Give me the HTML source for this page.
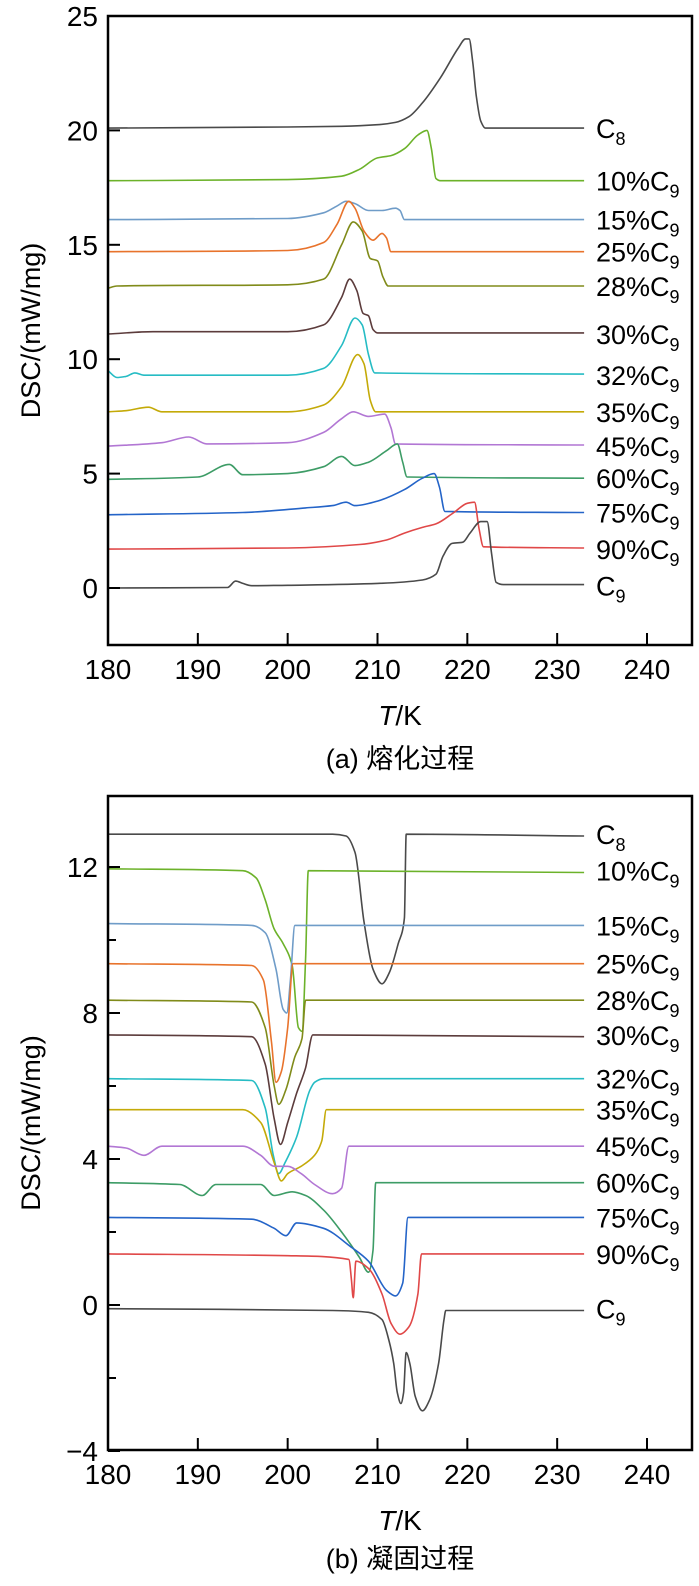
<!DOCTYPE html>
<html><head><meta charset="utf-8">
<style>
html,body{margin:0;padding:0;background:#fff;}
svg{display:block;font-family:"Liberation Sans","Noto Sans CJK SC",sans-serif;}
</style></head>
<body>
<svg id="fig" width="699" height="1586" viewBox="0 0 699 1586"></svg>
<script>
// ---------- data ----------
const xTicks = [180,190,200,210,220,230,240];
const topYTicks = [0,5,10,15,20,25];
const botYTicks = [-4,0,4,8,12];
const seriesNames = ["C8","10%C9","15%C9","25%C9","28%C9","30%C9","32%C9","35%C9","45%C9","60%C9","75%C9","90%C9","C9"];
const seriesColors = ["#4a4a4a","#6cb22a","#6f9cc8","#e8732c","#808b1a","#5c3c3c","#26bcc4","#c4aa08","#b277d4","#3d9c66","#2464c8","#e04848","#4a4a4a"];
const meltLabelY = [20.1,17.8,16.1,14.7,13.2,11.1,9.3,7.7,6.2,4.8,3.3,1.7,0.1];
const freezeLabelY = [12.9,11.9,10.4,9.35,8.35,7.4,6.2,5.35,4.35,3.35,2.4,1.4,-0.1];
const melt = [
 [[180,20.1],[200,20.15],[206,20.18],[210,20.25],[212,20.35],[213.5,20.6],[215,21.2],[217,22.3],[219,23.6],[219.8,24],[220.2,24],[220.6,23],[221,21.5],[221.5,20.4],[222,20.1],[233,20.1]],
 [[180,17.8],[200,17.85],[206,18.0],[208,18.3],[210,18.8],[211.5,18.9],[213,19.2],[214.5,19.8],[215.5,20.0],[216,19.2],[216.5,17.9],[217,17.8],[233,17.8]],
 [[180,16.1],[200,16.15],[204,16.4],[205.5,16.7],[206.5,16.9],[207.5,16.8],[209,16.5],[210.5,16.5],[212,16.6],[212.5,16.5],[213,16.1],[233,16.1]],
 [[180,14.7],[200,14.75],[204,15.1],[205.5,15.9],[206.8,16.9],[207.5,16.6],[208.5,15.6],[209.5,15.2],[210.5,15.5],[211,15.3],[211.5,14.7],[233,14.7]],
 [[180,13.1],[181,13.2],[200,13.25],[204,13.5],[206,15],[207.3,16.0],[208.3,15.6],[209.2,14.4],[210,14.3],[210.6,13.6],[211.2,13.2],[233,13.2]],
 [[180,11.1],[185,11.2],[200,11.2],[204,11.5],[206,12.7],[206.9,13.5],[207.7,13.0],[208.4,12.0],[209,11.9],[209.5,11.3],[210,11.15],[233,11.15]],
 [[180,9.5],[181,9.2],[182,9.25],[183,9.4],[184,9.3],[200,9.3],[204,9.6],[206,10.6],[207.5,11.8],[208.3,11.5],[209,10.2],[209.7,9.4],[233,9.35]],
 [[180,7.7],[182,7.75],[184.5,7.9],[186,7.7],[200,7.7],[204,8.0],[206,8.8],[207.8,10.2],[208.5,9.8],[209.2,8.2],[209.8,7.7],[233,7.7]],
 [[180,6.2],[186,6.35],[189,6.6],[191,6.3],[200,6.35],[204,6.8],[206,7.4],[207.3,7.7],[209,7.5],[210.8,7.6],[211.5,7.0],[212,6.3],[233,6.25]],
 [[180,4.75],[190,4.85],[193.5,5.4],[195,4.95],[200,5.0],[204,5.3],[206,5.75],[207.5,5.35],[209,5.5],[211,6.0],[212.2,6.3],[212.8,5.5],[213.3,4.85],[233,4.8]],
 [[180,3.2],[195,3.3],[202,3.5],[205,3.6],[206.5,3.75],[207.5,3.6],[210,3.8],[213,4.3],[215,4.8],[216.3,5.0],[216.9,4.4],[217.5,3.35],[233,3.3]],
 [[180,1.7],[200,1.75],[208,1.9],[211,2.1],[213,2.4],[215,2.65],[216.5,2.8],[218.5,3.3],[220,3.7],[220.8,3.75],[221.3,2.6],[221.8,1.8],[233,1.75]],
 [[180,0],[193.3,0.02],[194.2,0.3],[195,0.2],[196,0.1],[200,0.12],[210,0.2],[215,0.35],[216.5,0.6],[217.3,1.4],[218.3,1.95],[219.5,2.0],[220.3,2.4],[221.5,2.9],[222.2,2.9],[222.7,1.5],[223.2,0.25],[224,0.15],[233,0.15]]
];
const freeze = [
 [[180,12.9],[205,12.9],[206.5,12.85],[207.5,12.4],[208.5,10.5],[209.5,9.2],[210.5,8.8],[211.3,9.1],[212.3,9.9],[213,10.6],[213.2,12.9],[233,12.85]],
 [[180,11.95],[195,11.9],[196.5,11.7],[197.5,11.1],[198.5,10.3],[199.5,9.9],[200.5,9.3],[201.2,7.6],[201.6,7.5],[202,9.5],[202.3,11.9],[233,11.85]],
 [[180,10.45],[196,10.4],[197.5,10.2],[198.7,9.2],[199.5,8.1],[199.9,8.0],[200.3,8.9],[200.8,10.4],[233,10.4]],
 [[180,9.35],[196,9.3],[197.3,8.9],[198.2,7.2],[198.7,6.1],[199.3,6.4],[200,7.6],[200.6,9.35],[233,9.35]],
 [[180,8.35],[196,8.3],[197.5,7.6],[198.5,6.0],[199,5.5],[199.8,5.9],[200.8,6.8],[201.6,7.3],[202,8.35],[233,8.35]],
 [[180,7.4],[196,7.35],[197.5,6.6],[198.5,5.1],[199.2,4.4],[200,5.0],[201,5.8],[202,6.5],[202.8,7.4],[233,7.35]],
 [[180,6.2],[196,6.15],[197.5,5.4],[198.4,4.1],[199,3.6],[199.7,3.9],[201,4.6],[202.5,5.9],[203,6.1],[204,6.2],[233,6.2]],
 [[180,5.35],[195,5.35],[197,5.0],[198.5,3.9],[199.3,3.4],[200,3.6],[201.5,3.8],[203,4.1],[203.8,4.5],[204.3,5.35],[233,5.35]],
 [[180,4.35],[182,4.3],[184,4.1],[186,4.35],[195,4.35],[197,4.1],[198.5,3.8],[200,3.8],[201.5,3.6],[203,3.3],[205,3.05],[206,3.2],[206.8,4.35],[233,4.35]],
 [[180,3.35],[188,3.3],[190.5,3.0],[192,3.3],[197,3.3],[198.5,3.0],[200.5,3.1],[202,3.0],[204,2.6],[206,2.0],[208,1.3],[209,0.9],[209.5,1.5],[209.8,3.35],[233,3.35]],
 [[180,2.4],[196,2.35],[198.5,2.1],[199.8,1.9],[201,2.25],[204,2.1],[207,1.6],[209,1.2],[211,0.4],[212,0.25],[212.8,0.6],[213.4,2.4],[233,2.4]],
 [[180,1.4],[200,1.35],[206.8,1.25],[207.1,0.7],[207.3,0.2],[207.6,1.2],[209,1.0],[210.5,0.3],[211.5,-0.5],[212.5,-0.8],[213.5,-0.6],[214.5,0.3],[214.9,1.4],[233,1.4]],
 [[180,-0.1],[205,-0.15],[209,-0.2],[210.5,-0.4],[211.3,-1.0],[211.8,-1.6],[212.2,-2.4],[212.6,-2.7],[212.9,-2.4],[213.2,-1.3],[213.6,-1.6],[214.2,-2.5],[215,-2.9],[215.8,-2.6],[216.8,-1.6],[217.4,-0.4],[217.6,-0.15],[233,-0.15]]
];
// ---------- drawing ----------
const NS="http://www.w3.org/2000/svg";
const svg=document.getElementById('fig');
function mk(tag,attrs,parent){const e=document.createElementNS(NS,tag);for(const k in attrs)e.setAttribute(k,attrs[k]);(parent||svg).appendChild(e);return e;}
// monotone cubic (Fritsch–Carlson) in screen coords, x strictly increasing
function smoothPath(P){
  const n=P.length, d=[], m=[];
  for(let i=0;i<n-1;i++) d.push((P[i+1][1]-P[i][1])/(P[i+1][0]-P[i][0]));
  m[0]=d[0]; m[n-1]=d[n-2];
  for(let i=1;i<n-1;i++){
    if(d[i-1]*d[i]<=0) m[i]=0;
    else { const h0=P[i][0]-P[i-1][0], h1=P[i+1][0]-P[i][0];
      const w1=2*h1+h0, w2=h1+2*h0; m[i]=(w1+w2)/(w1/d[i-1]+w2/d[i]); }
  }
  let s='M'+P[0][0].toFixed(1)+','+P[0][1].toFixed(1);
  for(let i=0;i<n-1;i++){
    const h=(P[i+1][0]-P[i][0])/3;
    s+=' C'+(P[i][0]+h).toFixed(1)+','+(P[i][1]+m[i]*h).toFixed(1)+' '+(P[i+1][0]-h).toFixed(1)+','+(P[i+1][1]-m[i+1]*h).toFixed(1)+' '+P[i+1][0].toFixed(1)+','+P[i+1][1].toFixed(1);
  }
  return s;
}
function panel(cfg){
  const g=mk('g',{});
  
  
  const X=t=>108+(t-180)*(539/60);
  const Y=v=>cfg.y0+(v-cfg.v0)*(cfg.y1-cfg.y0)/(cfg.v1-cfg.v0);
  cfg.data.forEach((pts,i)=>{
    const P=pts.map(q=>[X(q[0]),Y(q[1])]);
    const p=mk('path',{d:smoothPath(P),fill:'none',stroke:seriesColors[i],'stroke-width':1.6,'stroke-linejoin':'round'},g);
    
    
    const lab=mk('text',{x:596,y:Y(cfg.labelY[i])+10,'font-size':27,fill:'#000'},g);
    
    
    const nm=seriesNames[i];
    lab.appendChild(document.createTextNode(nm.slice(0,-1)));
    const sub=mk('tspan',{'font-size':18,dy:7},lab);
    sub.textContent=nm.slice(-1);
  });
  const fr=mk('rect',{x:108,y:cfg.top,width:584,height:cfg.bottom-cfg.top,fill:'none',stroke:'#000','stroke-width':2.5},g);
  
  
  xTicks.forEach(t=>{
    const tk=mk('line',{x1:X(t),x2:X(t),y1:cfg.bottom,y2:cfg.bottom-12,stroke:'#000','stroke-width':2},g);
    
    
    const tl=mk('text',{x:X(t),y:cfg.bottom+34,'font-size':28,'text-anchor':'middle'},g);
    
    
    tl.textContent=t;
  });
  cfg.yTicks.forEach(v=>{
    const tk=mk('line',{x1:108,x2:120,y1:Y(v),y2:Y(v),stroke:'#000','stroke-width':2},g);
    
    
    const tl=mk('text',{x:98,y:Y(v)+10,'font-size':28,'text-anchor':'end'},g);
    
    
    tl.textContent=v<0?'\u2212'+(-v):v;
  });
  (cfg.minor||[]).forEach(v=>{
    const tk=mk('line',{x1:108,x2:116,y1:Y(v),y2:Y(v),stroke:'#000','stroke-width':2},g);
    
    
  });
  const yl=mk('text',{x:0,y:0,'font-size':27,'text-anchor':'middle',transform:`translate(40,${(cfg.top+cfg.bottom)/2}) rotate(-90)`},g);
  
  
  yl.textContent='DSC/(mW/mg)';
  const xl=mk('text',{x:400,y:cfg.bottom+80,'font-size':28,'text-anchor':'middle'},g);
  
  
  const it=mk('tspan',{'font-style':'italic'},xl);it.textContent='T';
  xl.appendChild(document.createTextNode('/K'));
  const cap=mk('text',{x:400,y:cfg.capY,'font-size':27,'text-anchor':'middle'},g);
  
  
  cap.textContent=cfg.caption;
}
panel({name:'melting-chart',data:melt,labelY:meltLabelY,yTicks:topYTicks,v0:0,y0:588,v1:25,y1:16,top:16,bottom:645,capY:768,caption:'(a) 熔化过程'});
panel({name:'solidification-chart',data:freeze,labelY:freezeLabelY,yTicks:botYTicks,minor:[-2,2,6,10],v0:0,y0:1305,v1:12,y1:867,top:796,bottom:1450,capY:1568,caption:'(b) 凝固过程'});
</script>
</body></html>
